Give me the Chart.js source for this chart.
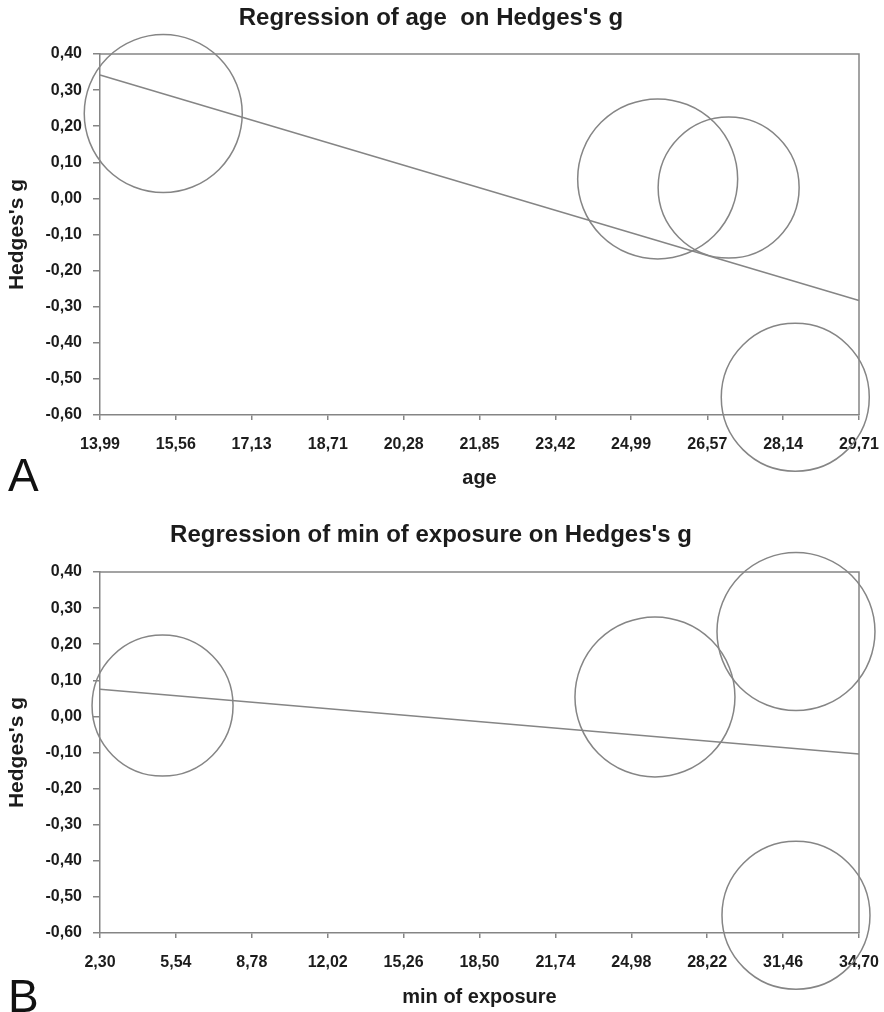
<!DOCTYPE html>
<html>
<head>
<meta charset="utf-8">
<script src="https://cdn.jsdelivr.net/npm/chart.js@4.4.1/dist/chart.umd.min.js"></script>
<style>
    body { margin: 0; background: #fff; }
    #page { position: relative; width: 884px; height: 1012px; overflow: hidden; background: #fff; }
    .panel { position: absolute; left: 0; width: 884px; height: 506px; }
    .letter { position: absolute; left: 8px; font: 46px 'Liberation Sans', Arial, sans-serif; line-height: 46px; color: #111; }
</style>
</head>
<body>
<div id="page">
    <div class="panel" style="top: 0"><canvas id="chartA" width="884" height="506"></canvas></div>
    <div class="panel" style="top: 506px"><canvas id="chartB" width="884" height="506"></canvas></div>
    <div class="letter" style="top: 452px">A</div>
    <div class="letter" style="top: 973px">B</div>
</div>
<script>
// four studies, same order in both panels
const hedgesG = [0.235, 0.054, 0.030, -0.551];
const studyWeight = [7.9, 8.0, 7.05, 7.4];
const age = [15.30, 25.54, 27.01, 28.39];
const exposure = [32.01, 25.99, 4.97, 32.01];

// regression lines (ends of the fitted line)
const ageFitX = [13.99, 29.71];
const ageFitY = [0.342, -0.283];
const exposureFitX = [2.30, 34.70];
const exposureFitY = [0.075, -0.104];

// tick labels
const ageTicks = [13.99, 15.56, 17.13, 18.71, 20.28, 21.85, 23.42, 24.99, 26.57, 28.14, 29.71];
const exposureTicks = [2.30, 5.54, 8.78, 12.02, 15.26, 18.50, 21.74, 24.98, 28.22, 31.46, 34.70];
const gTicks = [-0.60, -0.50, -0.40, -0.30, -0.20, -0.10, 0.00, 0.10, 0.20, 0.30, 0.40];

const BUBBLE_SCALE = 10;
const GRAY = '#858585';
const INK = '#1c1c1c';
const FONT = "'Liberation Sans', Arial, sans-serif";

document.addEventListener('DOMContentLoaded', function () {
    const comma = (v) => Number(v).toFixed(2).replace('.', ',');

    // top and right sides of the box
    const frame = {
        id: 'frame',
        beforeDatasetsDraw(chart) {
            const { ctx, chartArea: a } = chart;
            ctx.save();
            ctx.strokeStyle = GRAY;
            ctx.lineWidth = 1.5;
            ctx.beginPath();
            ctx.moveTo(a.left, a.top);
            ctx.lineTo(a.right, a.top);
            ctx.lineTo(a.right, a.bottom);
            ctx.stroke();
            ctx.restore();
        }
    };

    function buildChart(canvas, cfg) {
        return new Chart(canvas, {
            data: {
                datasets: [
                    {
                        type: 'bubble',
                        data: cfg.xs.map((x, i) => ({ x: x, y: hedgesG[i], r: studyWeight[i] * BUBBLE_SCALE })),
                        backgroundColor: 'rgba(0,0,0,0)',
                        borderColor: GRAY,
                        borderWidth: 1.5,
                        clip: false
                    },
                    {
                        type: 'line',
                        data: cfg.fitX.map((x, i) => ({ x: x, y: cfg.fitY[i] })),
                        borderColor: GRAY,
                        borderWidth: 1.5,
                        pointRadius: 0,
                        clip: false
                    }
                ]
            },
            options: {
                responsive: false,
                animation: false,
                events: [],
                layout: { autoPadding: false, padding: { left: 0, right: 22, top: 0, bottom: 0 } },
                plugins: {
                    legend: { display: false },
                    tooltip: { enabled: false },
                    title: {
                        display: true,
                        text: cfg.title,
                        color: INK,
                        font: { family: FONT, size: 24, weight: 'bold', lineHeight: 1.2 },
                        padding: { top: cfg.titleTop, bottom: cfg.titleBottom }
                    }
                },
                scales: {
                    x: {
                        type: 'linear',
                        min: cfg.xTicks[0],
                        max: cfg.xTicks[cfg.xTicks.length - 1],
                        afterBuildTicks: (s) => { s.ticks = cfg.xTicks.map((v) => ({ value: v })); },
                        afterFit: (s) => { s.height = cfg.xHeight; s.paddingLeft = 0; s.paddingRight = 25; },
                        ticks: { callback: comma, color: INK, font: { family: FONT, size: 16, weight: 'bold' }, padding: 15, maxRotation: 0, autoSkip: false },
                        grid: { drawOnChartArea: false, tickLength: 5, color: GRAY, lineWidth: 1.5 },
                        border: { color: GRAY, width: 1.5 },
                        title: {
                            display: true,
                            text: cfg.xTitle,
                            color: INK,
                            font: { family: FONT, size: 20, weight: 'bold', lineHeight: 1.2 },
                            padding: { top: 0, bottom: cfg.xTitleBottom }
                        }
                    },
                    y: {
                        type: 'linear',
                        min: -0.6,
                        max: 0.4,
                        afterBuildTicks: (s) => { s.ticks = gTicks.map((v) => ({ value: v })); },
                        afterFit: (s) => { s.width = 100; },
                        ticks: { callback: comma, color: INK, font: { family: FONT, size: 16, weight: 'bold' }, padding: 11 },
                        grid: { drawOnChartArea: false, tickLength: 7, color: GRAY, lineWidth: 1.5 },
                        border: { color: GRAY, width: 1.5 },
                        title: {
                            display: true,
                            text: "Hedges's g",
                            color: INK,
                            font: { family: FONT, size: 21, weight: 'bold', lineHeight: 1.2 },
                            padding: { top: 5, bottom: 0 }
                        }
                    }
                }
            },
            plugins: [frame]
        });
    }

    buildChart(document.getElementById('chartA'), {
        title: 'Regression of age  on Hedges\'s g',
        titleTop: 3.6,
        titleBottom: 21.6,
        xs: age,
        fitX: ageFitX,
        fitY: ageFitY,
        xTicks: ageTicks,
        xTitle: 'age',
        xHeight: 91,
        xTitleBottom: 16
    });

    buildChart(document.getElementById('chartB'), {
        title: 'Regression of min of exposure on Hedges\'s g',
        titleTop: 15.1,
        titleBottom: 22.1,
        xs: exposure,
        fitX: exposureFitX,
        fitY: exposureFitY,
        xTicks: exposureTicks,
        xTitle: 'min of exposure',
        xHeight: 79,
        xTitleBottom: 3
    });
});
</script>
</body>
</html>
